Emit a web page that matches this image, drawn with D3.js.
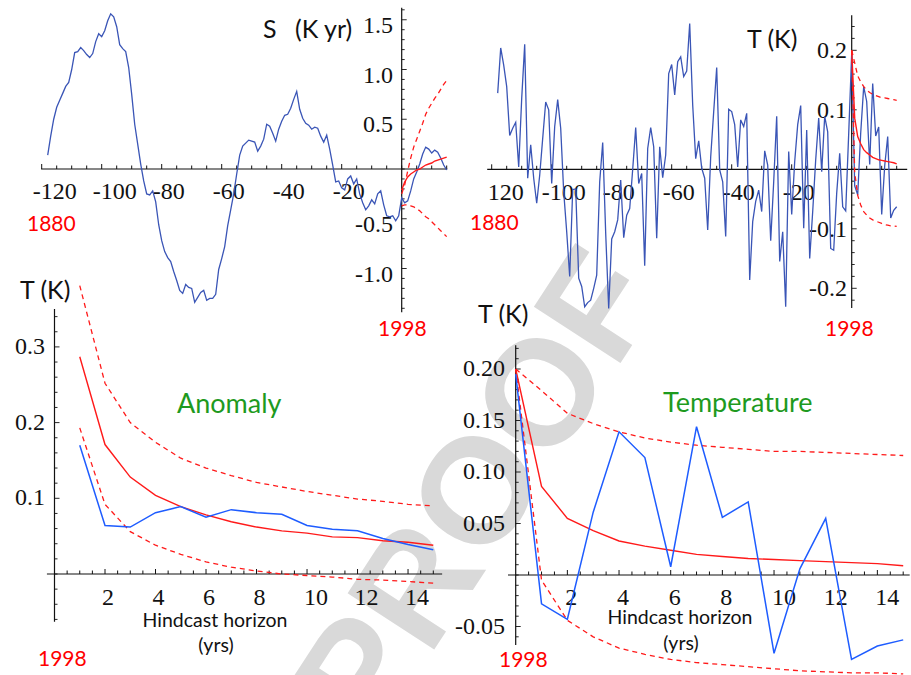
<!DOCTYPE html>
<html><head><meta charset="utf-8">
<script src="https://cdn.jsdelivr.net/npm/d3@7"></script>
<style>body{margin:0;background:#fff}</style>
</head><body><script>
// ---------------- DATA ----------------
// Panel 1: S (K yr), yearly from -118 (1880) to +15
const sStartYear = -118;
const sBlue = [0.14,0.33,0.50,0.62,0.69,0.76,0.83,0.87,1.00,1.17,
 1.18,1.22,1.19,1.15,1.12,1.16,1.28,1.36,1.33,1.39,
 1.49,1.56,1.53,1.43,1.25,1.21,1.18,1.02,0.75,0.45,
 0.25,0.05,-0.12,-0.25,-0.26,-0.22,-0.33,-0.56,-0.72,-0.83,
 -0.89,-0.93,-1.03,-1.12,-1.22,-1.25,-1.16,-1.19,-1.20,-1.34,
 -1.29,-1.24,-1.22,-1.32,-1.30,-1.30,-1.26,-1.01,-0.90,-0.78,
 -0.57,-0.41,-0.25,-0.05,0.14,0.23,0.26,0.29,0.28,0.27,
 0.18,0.23,0.30,0.45,0.43,0.36,0.28,0.40,0.48,0.54,
 0.55,0.61,0.70,0.78,0.60,0.51,0.46,0.44,0.40,0.42,
 0.41,0.33,0.27,0.34,0.20,0.04,-0.13,-0.12,-0.19,-0.21,
 -0.10,-0.07,-0.15,-0.10,-0.25,-0.34,-0.41,-0.37,-0.31,-0.35,
 -0.25,-0.22,-0.36,-0.47,-0.48,-0.47,-0.52,-0.47,-0.29,-0.34,
 -0.32,-0.22,-0.10,-0.03,0.05,0.15,0.22,0.20,0.16,0.19,
 0.17,0.11,0.04,-0.01];
const hindYears = [0,1,2,3,4,5,6,7,8,9,10,11,12,13,14,15];
const sFit   = [-0.21,-0.13,-0.08,-0.05,-0.03,-0.01,0.00,0.02,0.04,0.05,0.06,0.08,0.09,0.10,0.11,0.12];
const sUpper = [-0.25,-0.16,-0.02,0.11,0.22,0.30,0.38,0.46,0.55,0.61,0.66,0.71,0.75,0.80,0.85,0.89];
const sLower = [-0.37,-0.36,-0.36,-0.37,-0.38,-0.40,-0.42,-0.45,-0.48,-0.50,-0.53,-0.56,-0.59,-0.62,-0.65,-0.68];

// Panel 2: T (K) anomaly, yearly from -118 to -1, then hindcast years 0..15
const tStartYear = -118;
const tHist = [0.128,0.204,0.175,0.139,0.057,0.069,0.079,0.004,0.119,0.210,
 -0.015,0.041,-0.015,-0.057,-0.010,0.052,0.113,0.100,-0.024,0.072,
 0.117,0.069,-0.038,-0.105,-0.180,-0.034,-0.033,-0.183,-0.197,-0.231,
 -0.224,-0.220,-0.200,-0.178,-0.021,0.045,-0.108,-0.234,-0.117,-0.105,
 -0.085,-0.018,-0.115,-0.077,-0.066,0.000,0.070,-0.024,-0.007,-0.162,
 0.035,0.070,0.038,-0.116,0.038,-0.014,0.024,0.161,0.176,0.125,
 0.181,0.189,0.156,0.165,0.245,0.108,0.018,0.048,0.002,-0.015,
 -0.102,0.021,0.097,0.171,-0.001,-0.021,-0.113,0.101,0.097,0.075,
 0.004,0.083,0.072,0.094,-0.186,-0.088,-0.054,-0.035,-0.071,0.031,
 0.007,-0.120,-0.021,0.089,-0.155,-0.105,-0.231,0.030,-0.076,0.013,
 0.075,0.107,-0.099,0.066,-0.150,-0.071,0.016,0.086,-0.004,0.089,
 0.063,-0.133,-0.136,-0.040,0.027,-0.063,-0.070,0.060];
const tHind  = [0.195,-0.028,-0.043,0.061,0.139,0.114,0.008,0.144,0.056,0.071,-0.076,0.006,0.055,-0.082,-0.069,-0.063];
const tFit   = [0.200,0.086,0.055,0.043,0.033,0.028,0.024,0.020,0.018,0.016,0.015,0.014,0.013,0.012,0.011,0.009];
const tUpper = [0.200,0.179,0.157,0.147,0.139,0.133,0.129,0.126,0.124,0.122,0.120,0.120,0.119,0.118,0.117,0.116];
const tLower = [0.200,-0.005,-0.044,-0.060,-0.071,-0.077,-0.082,-0.085,-0.087,-0.089,-0.091,-0.093,-0.094,-0.095,-0.095,-0.096];

// Panel 3: Anomaly vs hindcast horizon 1..15
const horizons  = [1,2,3,4,5,6,7,8,9,10,11,12,13,14,15];
const anomBlue  = [0.170,0.064,0.062,0.081,0.089,0.075,0.085,0.081,0.079,0.064,0.059,0.057,0.047,0.039,0.032];
const anomFit   = [0.287,0.171,0.128,0.104,0.089,0.078,0.069,0.062,0.057,0.054,0.049,0.048,0.044,0.042,0.038];
const anomUpper = [0.381,0.252,0.200,0.174,0.153,0.140,0.130,0.121,0.115,0.109,0.104,0.099,0.096,0.092,0.090];
const anomLower = [0.193,0.092,0.056,0.038,0.026,0.016,0.009,0.004,0.000,-0.002,-0.004,-0.007,-0.008,-0.010,-0.012];

// Tick labels
const p1XTicks = [-120,-100,-80,-60,-40,-20];
const p1XLabels = ["-120","-100","-80","-60","-40","-20"];
const p1YTicks = [-1.0,-0.5,0.5,1.0,1.5];
const p1YLabels = ["-1.0","-0.5","0.5","1.0","1.5"];
const p2XTicks = [-120,-100,-80,-60,-40,-20];
const p2XLabels = ["120","-100","-80","-60","-40","-20"];
const p2YTicks = [-0.2,-0.1,0.1,0.2];
const p2YLabels = ["-0.2","-0.1","0.1","0.2"];
const p3XTicks = [2,4,6,8,10,12,14];
const p3XLabels = ["2","4","6","8","10","12","14"];
const p3YTicks = [0.1,0.2,0.3];
const p3YLabels = ["0.1","0.2","0.3"];
const p4XTicks = [2,4,6,8,10,12,14];
const p4XLabels = ["2","4","6","8","10","12","14"];
const p4YTicks = [-0.05,0.05,0.10,0.15,0.20];
const p4YLabels = ["-0.05","0.05","0.10","0.15","0.20"];

// ---------------- DRAWING ----------------
const svg = d3.select("body").append("svg").attr("width",911).attr("height",675);
const SERIF = "'Liberation Serif','Times New Roman',serif";
const SANS = "Lato,'Open Sans',sans-serif";
const BLUE1 = "#3a55b6", BLUE2 = "#1e5cff", RED = "#ff1a1a", GREEN = "#1e9a1e";

// watermark
svg.append("text")
  .attr("transform","translate(476,490) rotate(-57)")
  .attr("text-anchor","middle").attr("dominant-baseline","central")
  .style("font-family","'Liberation Sans',Arial,sans-serif").style("font-weight","bold")
  .style("font-size","150px").attr("fill","#d9d9d9").text("PROOF");

function panel(c) {
  const g = svg.append("g");
  const x = c.x, y = c.y;
  const y0 = y(0), x0 = x(0);
  g.append("line").attr("x1",x(c.xExt[0])).attr("x2",x(c.xExt[1])).attr("y1",y0).attr("y2",y0)
    .attr("stroke","#111").attr("stroke-width",1.2);
  g.append("line").attr("x1",x0).attr("x2",x0).attr("y1",y(c.yExt[0])).attr("y2",y(c.yExt[1]))
    .attr("stroke","#111").attr("stroke-width",1.2);
  const xt = d3.range(c.xMinor[0], c.xMinor[1]+1e-9, c.xMinor[2]);
  g.selectAll(null).data(xt).join("line")
    .attr("x1",d=>x(d)).attr("x2",d=>x(d)).attr("y1",y0)
    .attr("y2",d=>y0 - (c.xTicks.includes(+d.toFixed(3)) ? 5 : 3.5))
    .attr("stroke","#111").attr("stroke-width",1);
  const yt = d3.range(c.yMinor[0], c.yMinor[1]+1e-9, c.yMinor[2]);
  g.selectAll(null).data(yt).join("line")
    .attr("y1",d=>y(d)).attr("y2",d=>y(d)).attr("x1",x0)
    .attr("x2",d=>x0 + (c.yTicks.some(t=>Math.abs(t-d)<1e-6) ? 5 : 3))
    .attr("stroke","#111").attr("stroke-width",0.9);
  g.selectAll(null).data(c.xTicks).join("text")
    .attr("x",(d,i)=>x(d)+c.xLabDx[i]).attr("y",y0+c.xLabDy)
    .style("font-family",SERIF).style("font-size","24px").attr("fill","#111")
    .text((d,i)=>c.xLabels[i]);
  g.selectAll(null).data(c.yTicks).join("text")
    .attr("x",c.yLabX).attr("y",d=>y(d)+c.yLabDy).attr("text-anchor","end")
    .style("font-family",SERIF).style("font-size","24px").attr("fill","#111")
    .text((d,i)=>c.yLabels[i]);
  return g;
}
function drawLine(g, xs, ys, x, y, color, dashed, w) {
  const pts = xs.map((d,i)=>[d, ys[i]]);
  g.append("path").datum(pts)
    .attr("d", d3.line().x(d=>x(d[0])).y(d=>y(d[1])))
    .attr("fill","none").attr("stroke",color).attr("stroke-width",w)
    .attr("stroke-dasharray", dashed ? "5,4" : null);
}
function label(txt, x, y, size, color, anchor, font) {
  svg.append("text").attr("x",x).attr("y",y).attr("text-anchor",anchor||"start")
    .style("font-family",font||SANS).style("font-size",size+"px").attr("fill",color).text(txt);
}

// Panel 1
{
  const x = d3.scaleLinear().domain([-120,0]).range([41.7,401.7]);
  const y = d3.scaleLinear().domain([0,1]).range([169,69.5]);
  const g = panel({x,y,xExt:[-120.2,15.2],yExt:[1.62,-1.44],xMinor:[-120,15,5],yMinor:[-1.4,1.6,0.1],
    xTicks:p1XTicks,xLabels:p1XLabels,xLabDx:p1XTicks.map(()=>-9),xLabDy:30,
    yTicks:p1YTicks,yLabels:p1YLabels,yLabX:393,yLabDy:13});
  const yrs = sBlue.map((d,i)=>sStartYear+i);
  drawLine(g, yrs, sBlue, x, y, BLUE1, false, 1.3);
  drawLine(g, hindYears, sUpper, x, y, RED, true, 1.3);
  drawLine(g, hindYears, sLower, x, y, RED, true, 1.3);
  drawLine(g, hindYears, sFit, x, y, RED, false, 1.4);
}
// Panel 2
{
  const x = d3.scaleLinear().domain([-120,0]).range([491.7,851.7]);
  const y = d3.scaleLinear().domain([0,0.1]).range([169.3,109.8]);
  const g = panel({x,y,xExt:[-121.5,18.5],yExt:[0.259,-0.233],xMinor:[-120,15,5],yMinor:[-0.22,0.24,0.02],
    xTicks:p2XTicks,xLabels:p2XLabels,xLabDx:[-4,-10,-9,-9,-9,-9],xLabDy:31,
    yTicks:p2YTicks,yLabels:p2YLabels,yLabX:847,yLabDy:8});
  const yrs = tHist.map((d,i)=>tStartYear+i).concat(hindYears);
  drawLine(g, yrs, tHist.concat(tHind), x, y, BLUE1, false, 1.3);
  drawLine(g, hindYears, tUpper, x, y, RED, true, 1.3);
  drawLine(g, hindYears, tLower, x, y, RED, true, 1.3);
  drawLine(g, hindYears, tFit, x, y, RED, false, 1.4);
}
// Panel 3
{
  const x = d3.scaleLinear().domain([0,15]).range([54.5,433.3]);
  const y = d3.scaleLinear().domain([0,0.1]).range([574,498.3]);
  const g = panel({x,y,xExt:[-0.3,15.35],yExt:[0.35,-0.063],xMinor:[0.5,15,0.5],yMinor:[-0.06,0.34,0.02],
    xTicks:p3XTicks,xLabels:p3XLabels,xLabDx:p3XTicks.map(()=>-3),xLabDy:31,
    yTicks:p3YTicks,yLabels:p3YLabels,yLabX:45,yLabDy:7});
  drawLine(g, horizons, anomUpper, x, y, RED, true, 1.3);
  drawLine(g, horizons, anomLower, x, y, RED, true, 1.3);
  drawLine(g, horizons, anomFit, x, y, RED, false, 1.4);
  drawLine(g, horizons, anomBlue, x, y, BLUE2, false, 1.5);
}
// Panel 4
{
  const x = d3.scaleLinear().domain([0,15]).range([515.7,903.2]);
  const y = d3.scaleLinear().domain([0,0.05]).range([575,523.5]);
  const g = panel({x,y,xExt:[-0.3,15.25],yExt:[0.223,-0.068],xMinor:[0.5,15,0.5],yMinor:[-0.06,0.22,0.01],
    xTicks:p4XTicks,xLabels:p4XLabels,xLabDx:p4XTicks.map(()=>-2),xLabDy:30,
    yTicks:p4YTicks,yLabels:p4YLabels,yLabX:505,yLabDy:7});
  drawLine(g, hindYears, tUpper, x, y, RED, true, 1.3);
  drawLine(g, hindYears, tLower, x, y, RED, true, 1.3);
  drawLine(g, hindYears, tFit, x, y, RED, false, 1.4);
  drawLine(g, hindYears, tHind, x, y, BLUE2, false, 1.5);
}

// Titles / annotations
label("S", 263, 38, 25, "#111");
label("(K yr)", 295, 38, 25, "#111");
label("T (K)", 747, 48, 25, "#111");
label("T (K)", 20, 299, 25, "#111");
label("T (K)", 478, 323, 25, "#111");
label("1880", 27, 231, 21, "#ff0000");
label("1880", 470, 230, 21, "#ff0000");
label("1998", 378, 336, 21, "#ff0000");
label("1998", 825, 336, 21, "#ff0000");
label("1998", 38, 666, 21, "#ff0000");
label("1998", 499, 667, 21, "#ff0000");
label("Anomaly", 177, 413, 27, GREEN);
label("Temperature", 663, 412, 27, GREEN);
label("Hindcast horizon", 215, 627, 19.5, "#111", "middle");
label("(yrs)", 216, 652, 19.5, "#111", "middle");
label("Hindcast horizon", 680, 624, 19.5, "#111", "middle");
label("(yrs)", 681, 650, 19.5, "#111", "middle");
</script></body></html>
